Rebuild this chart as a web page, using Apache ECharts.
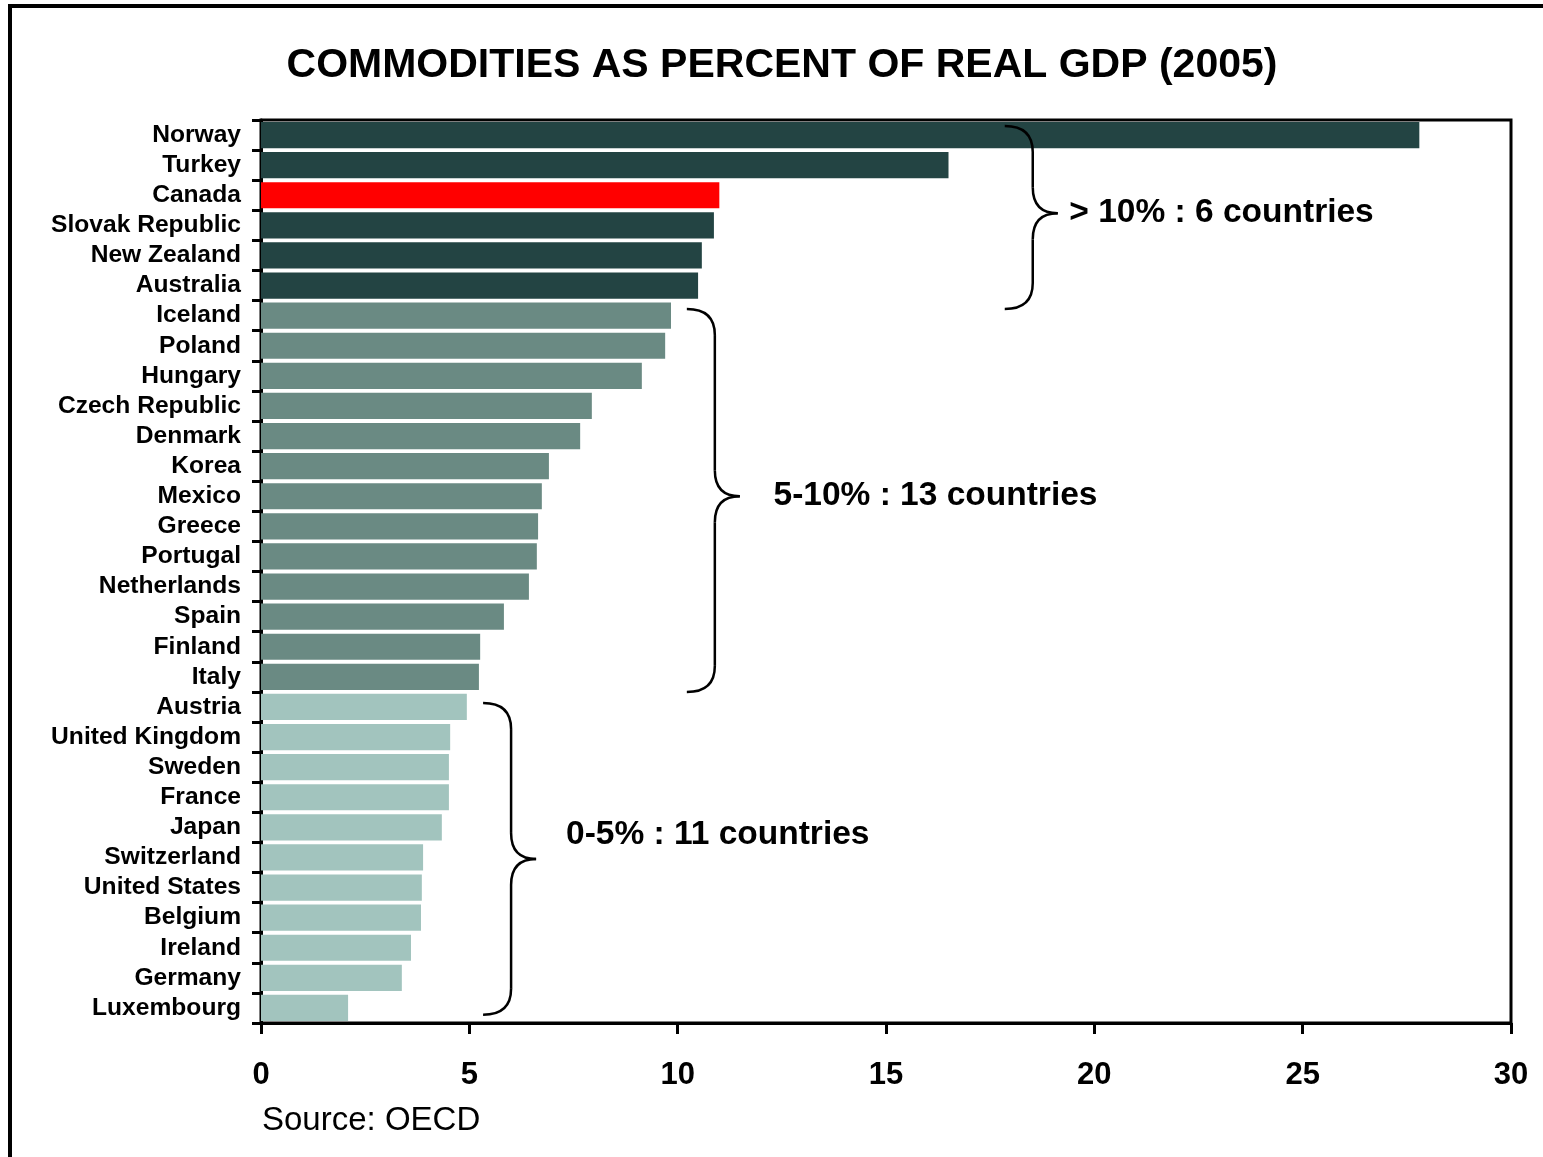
<!DOCTYPE html>
<html>
<head>
<meta charset="utf-8">
<script src="https://cdn.jsdelivr.net/npm/echarts@6/dist/echarts.min.js"></script>
<style>
html,body{margin:0;padding:0;background:#fff;}
#chart{width:1543px;height:1157px;}
</style>
</head>
<body>
<div id="chart"></div>
<script>
// ---- data ----
const countries = ["Norway","Turkey","Canada","Slovak Republic","New Zealand","Australia","Iceland","Poland","Hungary","Czech Republic","Denmark","Korea","Mexico","Greece","Portugal","Netherlands","Spain","Finland","Italy","Austria","United Kingdom","Sweden","France","Japan","Switzerland","United States","Belgium","Ireland","Germany","Luxembourg"];
const values = [27.8,16.5,11.0,10.87,10.58,10.49,9.84,9.70,9.14,7.94,7.66,6.91,6.74,6.65,6.62,6.43,5.83,5.26,5.23,4.94,4.54,4.51,4.51,4.34,3.89,3.86,3.84,3.60,3.38,2.09];
const xTicks = [0,5,10,15,20,25,30];
const titleText = "COMMODITIES AS PERCENT OF REAL GDP (2005)";
const sourceText = "Source: OECD";
const highlight = "Canada";
const groupLabels = ["> 10% : 6 countries","5-10% : 13 countries","0-5% : 11 countries"];

// ---- styles ----
const FONT = "'Liberation Sans', Arial, Helvetica, sans-serif";
const C_DARK = "#234443", C_MID = "#6a8a83", C_LIGHT = "#a2c4be", C_RED = "#ff0000";
function colorFor(name, v){
  if (name === highlight) return C_RED;
  if (v > 10) return C_DARK;
  if (v >= 5) return C_MID;
  return C_LIGHT;
}

const chart = echarts.init(document.getElementById('chart'), null, {renderer:'canvas'});
chart.setOption({
  animation:false,
  backgroundColor:'#fff',
  grid:{left:261,right:32,top:120,bottom:134,show:true,borderColor:'#000',borderWidth:3,backgroundColor:'transparent'},
  xAxis:{
    type:'value',min:xTicks[0],max:xTicks[xTicks.length-1],interval:xTicks[1]-xTicks[0],
    axisLine:{show:true,lineStyle:{color:'#000',width:3}},
    axisTick:{show:true,length:11,lineStyle:{color:'#000',width:3}},
    splitLine:{show:false},
    axisLabel:{color:'#000',fontFamily:FONT,fontWeight:'bold',fontSize:31,margin:37}
  },
  yAxis:{
    type:'category',inverse:true,data:countries,
    axisLine:{show:true,lineStyle:{color:'#000',width:3}},
    axisTick:{show:true,length:9,lineStyle:{color:'#000',width:3}},
    axisLabel:{color:'#000',fontFamily:FONT,fontWeight:'bold',fontSize:24.6,margin:20,interval:0}
  },
  series:[{
    type:'bar',barCategoryGap:'13%',
    data:values.map((v,i)=>({value:v,itemStyle:{color:colorFor(countries[i],v)}}))
  }]
});

// ---- annotations (layout in axis units) ----
const braces = [
  {x0:17.85, yTop:-0.30, yBot:5.78,  yTip:2.60,  tx:19.4, ty:2.56},
  {x0:10.22, yTop:5.78,  yBot:18.50, yTip:12.00, tx:12.3, ty:11.96},
  {x0:5.33,  yTop:18.87, yBot:29.23, yTip:24.05, tx:7.32, ty:23.20}
];
const y0 = chart.convertToPixel({yAxisIndex:0}, 0);
const y1 = chart.convertToPixel({yAxisIndex:0}, 1);
const band = y1 - y0;
const py = f => y0 + f*band;
const px = v => chart.convertToPixel({xAxisIndex:0}, v);

const graphics = [];
const LS = {fill:'none',stroke:'#000',lineWidth:2.5};
const Z = 100;
graphics.push({type:'rect',z:Z,shape:{x:10,y:6,width:1600,height:1250},style:{fill:'none',stroke:'#000',lineWidth:4},silent:true});
graphics.push({type:'text',z:Z,x:782,y:66,style:{text:titleText,font:"bold 41px "+FONT,fill:'#000',textAlign:'center',textVerticalAlign:'middle'}});
graphics.push({type:'text',z:Z,x:px(0)+1,y:1121,style:{text:sourceText,font:"33px "+FONT,fill:'#000',textAlign:'left',textVerticalAlign:'middle'}});

braces.forEach((b,i)=>{
  const x0 = px(b.x0), x1 = x0+28, x2 = x1+25;
  const t = py(b.yTop), bt = py(b.yBot), tip = py(b.yTip);
  const r = 26;
  graphics.push({type:'bezierCurve',z:Z,shape:{x1:x0,y1:t,cpx1:x1,cpy1:t,x2:x1,y2:t+r},style:LS,silent:true});
  graphics.push({type:'line',z:Z,shape:{x1:x1,y1:t+r,x2:x1,y2:tip-r},style:LS,silent:true});
  graphics.push({type:'bezierCurve',z:Z,shape:{x1:x1,y1:tip-r,cpx1:x1,cpy1:tip,x2:x2,y2:tip},style:LS,silent:true});
  graphics.push({type:'bezierCurve',z:Z,shape:{x1:x2,y1:tip,cpx1:x1,cpy1:tip,x2:x1,y2:tip+r},style:LS,silent:true});
  graphics.push({type:'line',z:Z,shape:{x1:x1,y1:tip+r,x2:x1,y2:bt-r},style:LS,silent:true});
  graphics.push({type:'bezierCurve',z:Z,shape:{x1:x1,y1:bt-r,cpx1:x1,cpy1:bt,x2:x0,y2:bt},style:LS,silent:true});
  graphics.push({type:'text',z:Z,x:px(b.tx),y:py(b.ty)+1,style:{text:groupLabels[i],font:"bold 33.5px "+FONT,fill:'#000',textAlign:'left',textVerticalAlign:'middle'}});
});
chart.setOption({graphic:graphics});
</script>
</body>
</html>
